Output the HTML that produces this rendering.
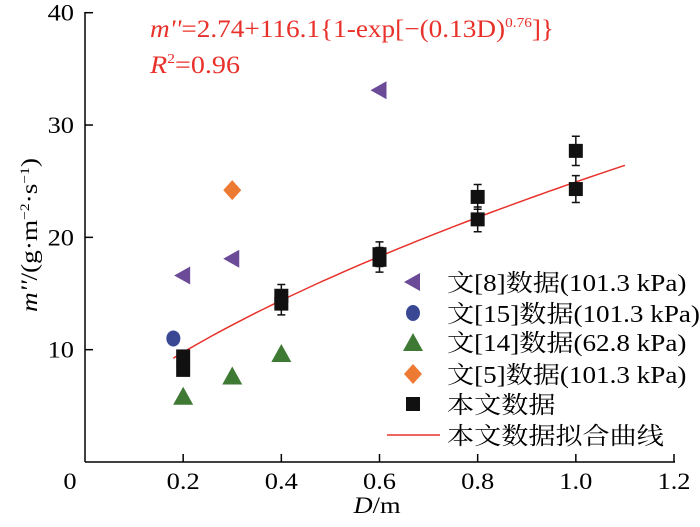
<!DOCTYPE html>
<html><head><meta charset="utf-8"><style>
body{margin:0;background:#fff;}
svg{display:block;font-family:"Liberation Serif","Noto Serif CJK SC",serif;}
</style></head><body>
<svg id="chart" width="700" height="527">
<g id="axes"></g>
<g id="marks"></g>
<text x="150" y="37" fill="#e8312a" font-size="25" textLength="404" lengthAdjust="spacingAndGlyphs"><tspan font-style="italic">m''</tspan>=2.74+116.1{1-exp[−(0.13D)<tspan font-size="14" dy="-10">0.76</tspan><tspan dy="10">]}</tspan></text>
<text x="150" y="73" fill="#e8312a" font-size="25" textLength="90" lengthAdjust="spacingAndGlyphs"><tspan font-style="italic">R</tspan><tspan font-size="14" dy="-10">2</tspan><tspan dy="10">=0.96</tspan></text>
<text transform="translate(37,235) rotate(-90)" x="-77" y="0" font-size="23" textLength="154" lengthAdjust="spacingAndGlyphs"><tspan font-style="italic">m''</tspan>/(g·m<tspan font-size="13" dy="-8">−2</tspan><tspan dy="8">·s</tspan><tspan font-size="13" dy="-8">−1</tspan><tspan dy="8">)</tspan></text>
<text transform="translate(377,513) scale(1.15,1)" text-anchor="middle" font-size="23"><tspan font-style="italic">D</tspan>/m</text>
<g id="legend"></g>
</svg>
<script>
const xTicks=[0,0.2,0.4,0.6,0.8,1.0,1.2];
const xTickLabels=["0","0.2","0.4","0.6","0.8","1.0","1.2"];
const yTicks=[10,20,30,40];
const ref8X=[0.2,0.3,0.6];
const ref8Y=[16.6,18.1,33.1];
const ref15X=[0.18];
const ref15Y=[11.0];
const ref14X=[0.2,0.3,0.4];
const ref14Y=[5.9,7.7,9.7];
const ref5X=[0.3];
const ref5Y=[24.2];
const ownX=[0.2,0.2,0.4,0.4,0.6,0.6,0.8,0.8,1.0,1.0];
const ownY=[9.4,8.2,14.8,14.1,18.5,18.0,23.6,21.6,27.7,24.3];
const ownErr=[0,0,1.0,1.0,1.1,1.1,1.1,1.1,1.3,1.2];
const fitA=2.74, fitB=116.1, fitK=0.13, fitN=0.76, fitMin=0.18, fitMax=1.1;

const NS="http://www.w3.org/2000/svg";
const sx=v=>85+v/1.2*589;
const sy=v=>462-v/40*449.3;
function mk(p,tag,at){const e=document.createElementNS(NS,tag);for(const k in at)e.setAttribute(k,at[k]);p.appendChild(e);return e;}
const axes=document.getElementById('axes'),marks=document.getElementById('marks'),legend=document.getElementById('legend');
let e=mk(axes,'line',{x1:85,y1:12,x2:85,y2:462,stroke:'#000','stroke-width':1.5});

e=mk(axes,'line',{x1:85,y1:462,x2:675,y2:462,stroke:'#000','stroke-width':1.5});

xTicks.forEach((t,i)=>{
 const x=sx(t);
 if(i>0){e=mk(axes,'line',{x1:x,y1:462,x2:x,y2:454,stroke:'#000','stroke-width':1.5});
 }
 e=mk(axes,'text',{transform:`translate(${i==0?70:x},489) scale(1.15,1)`,'text-anchor':'middle','font-size':23});e.textContent=xTickLabels[i];
 
});
yTicks.forEach(t=>{
 const y=sy(t);
 e=mk(axes,'line',{x1:85,y1:y,x2:93,y2:y,stroke:'#000','stroke-width':1.5});
 
 e=mk(axes,'text',{transform:`translate(74,${y+8}) scale(1.15,1)`,'text-anchor':'end','font-size':23});e.textContent=t;
 
});
let d='';for(let i=0;i<=60;i++){const D=fitMin+(fitMax-fitMin)*i/60;const v=fitA+fitB*(1-Math.exp(-Math.pow(fitK*D,fitN)));d+=(i?'L':'M')+sx(D).toFixed(1)+','+sy(v).toFixed(1);}
e=mk(marks,'path',{d:d,stroke:'#e8312a','stroke-width':1.5,fill:'none'});

function tri(p,x,y,c){return mk(p,'polygon',{points:`${x-10},${y+9} ${x+10},${y+9} ${x},${y-9}`,fill:c});}
function ltri(p,x,y,c){return mk(p,'polygon',{points:`${x-9},${y} ${x+7},${y-9} ${x+7},${y+9}`,fill:c});}
function dia(p,x,y,c){return mk(p,'polygon',{points:`${x},${y-10} ${x+9},${y} ${x},${y+10} ${x-9},${y}`,fill:c});}
function sq(p,x,y){return mk(p,'rect',{x:x-7,y:y-7,width:14,height:14,fill:'#111'});}
ref8X.forEach((v,i)=>{e=ltri(marks,sx(v),sy(ref8Y[i]),'#6b4a98');});
ref15X.forEach((v,i)=>{e=mk(marks,'ellipse',{cx:sx(v),cy:sy(ref15Y[i]),rx:7,ry:8,fill:'#3a4894'});});
ref14X.forEach((v,i)=>{e=tri(marks,sx(v),sy(ref14Y[i]),'#3f7a35');});
ref5X.forEach((v,i)=>{e=dia(marks,sx(v),sy(ref5Y[i]),'#ec7a33');});
ownX.forEach((v,i)=>{
 const x=sx(v),y=sy(ownY[i]);
 if(ownErr[i]>0){const y1=sy(ownY[i]+ownErr[i]),y2=sy(ownY[i]-ownErr[i]);
  e=mk(marks,'path',{d:`M${x},${y1}V${y2}M${x-4},${y1}H${x+4}M${x-4},${y2}H${x+4}`,stroke:'#111','stroke-width':1.5,fill:'none'});
  }
 e=sq(marks,x,y);
});
const legTexts=["文[8]数据(101.3 kPa)","文[15]数据(101.3 kPa)","文[14]数据(62.8 kPa)","文[5]数据(101.3 kPa)","本文数据","本文数据拟合曲线"];
const legY=[282,313,342,374,404,435];
legTexts.forEach((t,i)=>{
 const y=legY[i],x=413;
 if(i==0)e=ltri(legend,x,y,'#6b4a98');
 else if(i==1)e=mk(legend,'ellipse',{cx:x,cy:y,rx:7,ry:8,fill:'#3a4894'});
 else if(i==2)e=tri(legend,x,y,'#3f7a35');
 else if(i==3)e=dia(legend,x,y,'#ec7a33');
 else if(i==4)e=sq(legend,x,y);
 else e=mk(legend,'line',{x1:387,y1:y,x2:440,y2:y,stroke:'#e8312a','stroke-width':1.5});
 
 e=mk(legend,'text',{transform:`translate(447,${y+9}) scale(1.13,1)`,'font-size':24});e.textContent=t;
 
});
</script>
</body></html>
